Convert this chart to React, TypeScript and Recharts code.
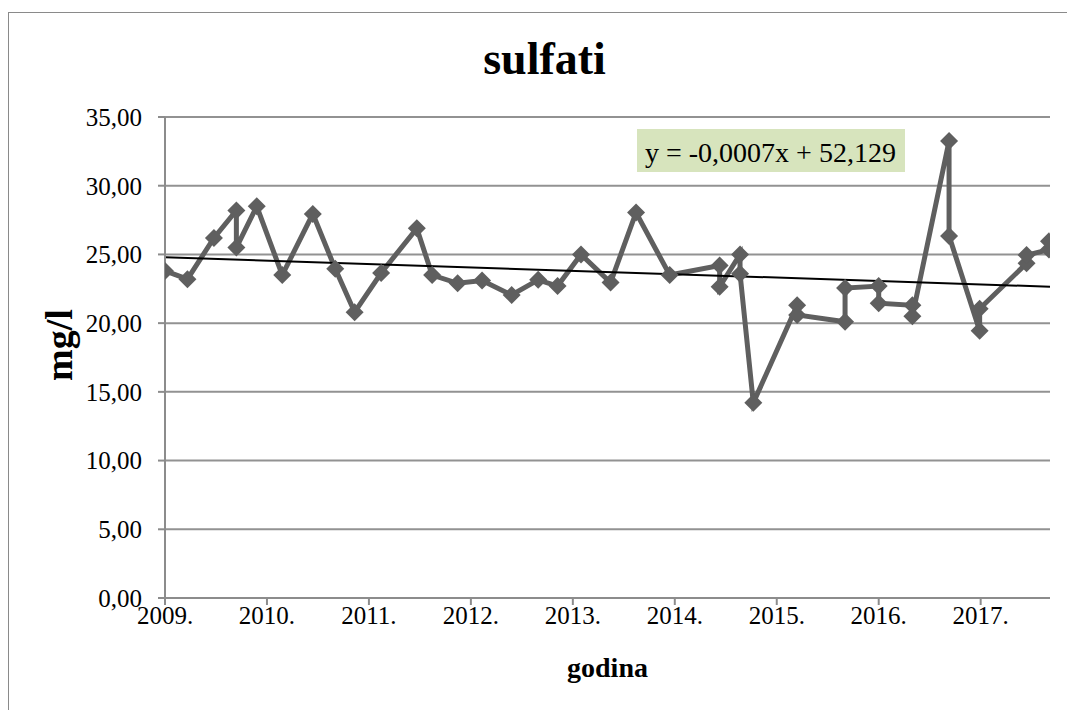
import { LineChart, Line, XAxis, YAxis, CartesianGrid } from "recharts"

// sampling dates as fractional years
const dates = [
  2009.0, 2009.22, 2009.48, 2009.7, 2009.7, 2009.9, 2010.15, 2010.45, 2010.67, 2010.86,
  2011.12, 2011.47, 2011.62, 2011.87, 2012.11, 2012.4, 2012.66, 2012.85, 2013.08, 2013.37,
  2013.62, 2013.95, 2014.44, 2014.44, 2014.64, 2014.64, 2014.77, 2015.2, 2015.2, 2015.67,
  2015.67, 2016.0, 2016.0, 2016.33, 2016.33, 2016.69, 2016.69, 2016.99, 2016.99, 2017.45,
  2017.45, 2017.67, 2017.67,
]

// sulfati, mg/l
const sulfati = [
  23.8, 23.2, 26.2, 28.2, 25.5, 28.5, 23.5, 27.95, 23.95, 20.8,
  23.65, 26.9, 23.5, 22.9, 23.1, 22.05, 23.15, 22.7, 25.0, 22.95,
  28.05, 23.5, 24.2, 22.65, 25.0, 23.6, 14.2, 21.3, 20.6, 20.1,
  22.55, 22.7, 21.45, 21.3, 20.5, 33.25, 26.35, 19.45, 21.05, 24.35,
  24.95, 25.35, 25.95,
]

// linear trend end points
const trendDates = [2009.0, 2017.68]
const trendValues = [24.8, 22.65]

const yearTicks = [2009, 2010, 2011, 2012, 2013, 2014, 2015, 2016, 2017]
const valueTicks = [0, 5, 10, 15, 20, 25, 30, 35]

const title = "sulfati"
const equation = "y = -0,0007x + 52,129"

const data = dates.map((x, i) => ({ x, v: sulfati[i] }))
const trendData = trendDates.map((x, i) => ({ x, t: trendValues[i] }))

const serif = '"Liberation Serif", "Times New Roman", serif'
const gray = "#5f5f5f"

function Diamond(props: any) {
  const { cx, cy, index } = props
  if (cx == null || cy == null) return <g key={index} />
  const r = 9
  return (
    <path
      key={index}
      d={`M${cx},${cy - r} L${cx + r},${cy} L${cx},${cy + r} L${cx - r},${cy} Z`}
      fill={gray}
      stroke="none"
    />
  )
}

function YTitle() {
  return (
    <text
      x={72}
      y={345}
      transform="rotate(-90, 72, 345)"
      textAnchor="middle"
      fill="#000"
      fontFamily={serif}
      fontSize={38}
      fontWeight="bold"
    >
      mg/l
    </text>
  )
}

export default function App() {
  return (
    <div style={{ position: "absolute", left: 0, top: 0, width: 1067, height: 710, overflow: "hidden", background: "#fff" }}>
      <div
        style={{
          position: "absolute",
          left: 8,
          top: 12,
          width: 1080,
          height: 720,
          border: "1.5px solid #8a8a8a",
        }}
      />
      <div
        style={{
          position: "absolute",
          left: 0,
          top: 36,
          width: 1089,
          textAlign: "center",
          fontFamily: serif,
          fontWeight: "bold",
          fontSize: 46,
          lineHeight: "46px",
        }}
      >
        {title}
      </div>
      <LineChart
        width={1067}
        height={710}
        data={data}
        margin={{ top: 117, right: 17, bottom: 0, left: 0 }}
        style={{ position: "absolute", left: 0, top: 0 }}
      >
        <CartesianGrid horizontal vertical={false} stroke="#929292" strokeWidth={2} />
        <XAxis
          dataKey="x"
          type="number"
          domain={[2009, 2017.68]}
          ticks={yearTicks}
          tickFormatter={(v: number) => `${v}.`}
          height={112}
          stroke="#8c8c8c"
          strokeWidth={2}
          tickSize={7}
          tickMargin={1}
          allowDataOverflow
          tick={{ fill: "#000", fontFamily: serif, fontSize: 25 }}
          label={{
            value: "godina",
            position: "insideBottom",
            offset: 33,
            style: { fill: "#000", fontFamily: serif, fontSize: 28, fontWeight: "bold" },
          }}
        />
        <YAxis
          type="number"
          domain={[0, 35]}
          ticks={valueTicks}
          tickFormatter={(v: number) => v.toFixed(2).replace(".", ",")}
          width={165}
          stroke="#8c8c8c"
          strokeWidth={2}
          tickSize={7}
          tickMargin={16}
          tick={{ fill: "#000", fontFamily: serif, fontSize: 25 }}
          label={{ value: "mg/l", content: YTitle }}
        />
        <Line
          dataKey="v"
          stroke={gray}
          strokeWidth={5}
          dot={Diamond}
          activeDot={false}
          isAnimationActive={false}
        />
        <Line
          data={trendData}
          dataKey="t"
          stroke="#000"
          strokeWidth={2}
          dot={false}
          activeDot={false}
          isAnimationActive={false}
        />
      </LineChart>
      <div
        style={{
          position: "absolute",
          left: 637,
          top: 129,
          width: 268,
          height: 43,
          background: "#d7e4bd",
          fontFamily: serif,
          fontSize: 28,
          lineHeight: "43px",
          paddingLeft: 8,
          paddingTop: 2,
          boxSizing: "border-box",
          whiteSpace: "nowrap",
        }}
      >
        {equation}
      </div>
    </div>
  )
}
